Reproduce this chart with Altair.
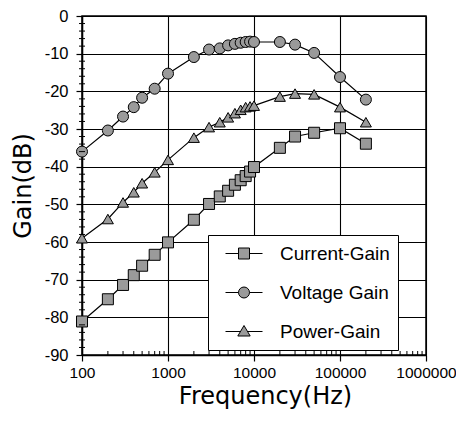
import altair as alt
import pandas as pd

freq = [100, 200, 300, 400, 500, 700, 1000, 2000, 3000, 4000, 5000, 6000, 7000,
        8000, 9000, 10000, 20000, 30000, 50000, 100000, 200000]
current_gain = [-81.1, -75.2, -71.4, -68.8, -66.3, -63.4, -60.1, -54.1, -49.9, -47.9,
                -46.4, -44.8, -43.6, -42.5, -41.3, -40.1, -35.0, -32.0, -31.0, -29.8, -33.9]
voltage_gain = [-36.0, -30.4, -26.7, -24.2, -21.7, -19.3, -15.3, -10.9, -8.9, -8.6,
                -7.8, -7.4, -7.1, -6.9, -6.8, -6.9, -6.9, -7.6, -9.8, -16.2, -22.2]
power_gain = [-59.0, -53.9, -49.5, -46.8, -44.4, -41.5, -38.2, -32.3, -29.5, -28.2,
              -26.9, -25.8, -24.9, -24.2, -24.0, -23.8, -21.4, -20.6, -20.8, -24.2, -28.2]

series_names = ["Current-Gain", "Voltage Gain", "Power-Gain"]
marker_shapes = ["square", "circle", "triangle-up"]
x_major = [100, 1000, 10000, 100000, 1000000]
y_major = [-90, -80, -70, -60, -50, -40, -30, -20, -10, 0]
x_minor = [m * d for d in [100, 1000, 10000, 100000] for m in range(2, 10)]
y_minor = [v for v in range(-88, 0, 2) if v % 10 != 0]

rows = []
for name, vals in zip(series_names, [current_gain, voltage_gain, power_gain]):
    for f, g in zip(freq, vals):
        rows.append({"freq": f, "gain": g, "series": name})
df = pd.DataFrame(rows)

W, H = 344, 339
xs = alt.Scale(type="log", domain=[100, 1000000])
ys = alt.Scale(domain=[-90, 0], nice=False, zero=False)

x_axis = alt.Axis(values=x_major, title="Frequency(Hz)", grid=True,
                  labelExpr="'' + datum.value", labelFlush=False, labelOverlap=False,
                  labelFontSize=15.5,
                  tickSize=6, labelPadding=4, titlePadding=4, titleFontSize=24,
                  titleFont="DejaVu Sans", titleFontWeight="normal", titleX=183)
y_axis = alt.Axis(values=y_major, title="Gain(dB)", grid=True, tickSize=6,
                  labelExpr="'' + datum.value", labelFlush=False, labelOverlap=False,
                  labelFontSize=16.5,
                  labelPadding=8, titlePadding=9, titleFontSize=24,
                  titleFont="DejaVu Sans", titleFontWeight="normal")

base = alt.Chart(df)

lines = base.mark_line(color="black", strokeWidth=1.2).encode(
    x=alt.X("freq:Q", scale=xs, axis=x_axis),
    y=alt.Y("gain:Q", scale=ys, axis=y_axis),
    detail="series:N",
)

point_layers = []
for name, shp in zip(series_names, marker_shapes):
    point_layers.append(
        base.transform_filter(alt.datum.series == name).mark_point(
            shape=shp, filled=True, fill="#9a9a9a", stroke="black",
            strokeWidth=1, size=121, opacity=1).encode(
            x=alt.X("freq:Q", scale=xs, axis=x_axis),
            y=alt.Y("gain:Q", scale=ys, axis=y_axis),
        )
    )

sq_path = "M-0.1,0H1.2M2.3,0H3.6M1.2,-0.55H2.3V0.55H1.2Z"
ci_path = "M-0.1,0H1.2M2.3,0H3.6M1.2,0A0.55,0.55,0,1,1,2.3,0A0.55,0.55,0,1,1,1.2,0Z"
tr_path = "M-0.1,0H1.4M2.1,0H3.6M1.75,-0.6L2.37,0.45H1.13Z"

leg = alt.Legend(
    title=None, orient="none", legendX=126, legendY=219,
    padding=8, rowPadding=18, symbolSize=400,
    symbolStrokeWidth=1, symbolOpacity=1,
    labelFontSize=19, labelOffset=43, labelColor="black",
    labelExpr="datum.label + '   '",
    strokeColor="black", fillColor="white",
)

legend_layer = base.transform_filter("false").mark_point(
    filled=False, strokeWidth=1, opacity=1).encode(
    x=alt.X("freq:Q", scale=xs, axis=x_axis),
    y=alt.Y("gain:Q", scale=ys, axis=y_axis),
    shape=alt.Shape("series:N",
                    scale=alt.Scale(domain=series_names,
                                    range=[sq_path, ci_path, tr_path]),
                    legend=leg),
    stroke=alt.Stroke("series:N",
                      scale=alt.Scale(domain=series_names,
                                      range=["black", "black", "black"]),
                      legend=leg),
    fill=alt.Fill("series:N",
                  scale=alt.Scale(domain=series_names,
                                  range=["#9a9a9a", "#9a9a9a", "#9a9a9a"]),
                  legend=leg),
)

xminor_df = pd.DataFrame({"freq": x_minor})
xminor = alt.Chart(xminor_df).mark_rule(color="black", strokeWidth=1).encode(
    x=alt.X("freq:Q", scale=xs, axis=x_axis),
    y=alt.value(H), y2=alt.value(H - 4),
)

yminor_df = pd.DataFrame({"gain": y_minor})
yminor = alt.Chart(yminor_df).mark_rule(color="black", strokeWidth=1).encode(
    y=alt.Y("gain:Q", scale=ys, axis=y_axis),
    x=alt.value(-3), x2=alt.value(3),
)

chart = alt.layer(lines, *point_layers, xminor, yminor, legend_layer).properties(
    width=W, height=H,
    autosize=alt.AutoSizeParams(type="none"),
    padding={"left": 74, "top": 8, "right": 30, "bottom": 56},
).configure(
    font="Liberation Sans",
).configure_view(
    stroke="black", strokeWidth=1.5,
).configure_axis(
    labelColor="black", titleColor="black",
    tickColor="black", domainColor="black", domainWidth=1.5,
    gridColor="black", gridOpacity=1, gridWidth=1.1, tickWidth=1.2,
    labelFont="Liberation Sans", labelOverlap=False, labelFlush=False,
)

chart.save("out.html", embed_options={"renderer": "svg", "actions": False})
